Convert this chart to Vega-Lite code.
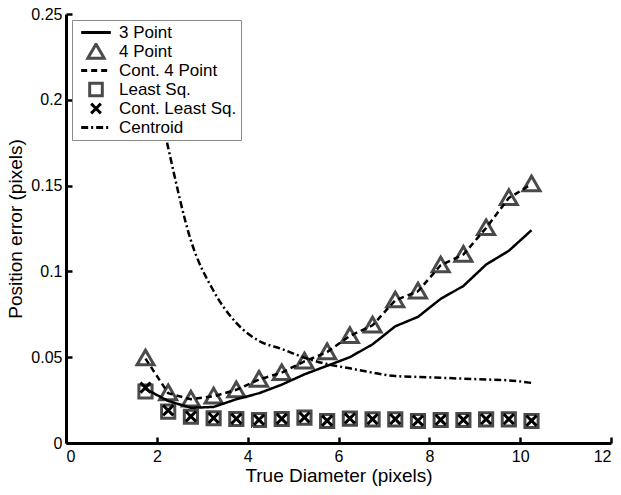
{
  "$schema": "https://vega.github.io/schema/vega-lite/v6.json",
  "width": 545,
  "height": 429,
  "autosize": {"type": "none"},
  "padding": {"left": 66, "top": 14, "right": 10, "bottom": 52},
  "background": "white",
  "config": {
    "view": {"stroke": null},
    "font": "Liberation Sans",
    "axis": {
      "grid": false,
      "domainColor": "black",
      "domainWidth": 3,
      "tickColor": "black",
      "tickWidth": 2.5,
      "tickSize": -6,
      "labelFont": "Liberation Sans",
      "labelFontSize": 16,
      "labelColor": "black",
      "titleFont": "Liberation Sans",
      "titleFontSize": 19,
      "titleFontWeight": "normal",
      "titleColor": "black"
    },
    "legend": {
      "orient": "top-left",
      "offset": 6,
      "strokeColor": "#8a8a8a",
      "strokeWidth": 1,
      "fillColor": "white",
      "padding": 4,
      "labelFont": "Liberation Sans",
      "labelFontSize": 17,
      "labelColor": "black",
      "symbolStrokeWidth": 3,
      "symbolSize": 220,
      "clipHeight": 17,
      "rowPadding": 1,
      "symbolOffset": 11,
      "labelOffset": 14
    }
  },
  "data": {
    "values": [
      {"d": 1.75, "e": 0.0315, "s": "3 Point"},
      {"d": 2.25, "e": 0.0245, "s": "3 Point"},
      {"d": 2.75, "e": 0.0205, "s": "3 Point"},
      {"d": 3.25, "e": 0.021, "s": "3 Point"},
      {"d": 3.75, "e": 0.0255, "s": "3 Point"},
      {"d": 4.25, "e": 0.029, "s": "3 Point"},
      {"d": 4.75, "e": 0.034, "s": "3 Point"},
      {"d": 5.25, "e": 0.04, "s": "3 Point"},
      {"d": 5.75, "e": 0.045, "s": "3 Point"},
      {"d": 6.25, "e": 0.05, "s": "3 Point"},
      {"d": 6.75, "e": 0.0575, "s": "3 Point"},
      {"d": 7.25, "e": 0.068, "s": "3 Point"},
      {"d": 7.75, "e": 0.0735, "s": "3 Point"},
      {"d": 8.25, "e": 0.084, "s": "3 Point"},
      {"d": 8.75, "e": 0.0915, "s": "3 Point"},
      {"d": 9.25, "e": 0.104, "s": "3 Point"},
      {"d": 9.75, "e": 0.112, "s": "3 Point"},
      {"d": 10.25, "e": 0.124, "s": "3 Point"},

      {"d": 1.75, "e": 0.0496, "s": "4 Point"},
      {"d": 2.25, "e": 0.0293, "s": "4 Point"},
      {"d": 2.75, "e": 0.0256, "s": "4 Point"},
      {"d": 3.25, "e": 0.0274, "s": "4 Point"},
      {"d": 3.75, "e": 0.031, "s": "4 Point"},
      {"d": 4.25, "e": 0.0372, "s": "4 Point"},
      {"d": 4.75, "e": 0.041, "s": "4 Point"},
      {"d": 5.25, "e": 0.0478, "s": "4 Point"},
      {"d": 5.75, "e": 0.0532, "s": "4 Point"},
      {"d": 6.25, "e": 0.0626, "s": "4 Point"},
      {"d": 6.75, "e": 0.0688, "s": "4 Point"},
      {"d": 7.25, "e": 0.0834, "s": "4 Point"},
      {"d": 7.75, "e": 0.0886, "s": "4 Point"},
      {"d": 8.25, "e": 0.1038, "s": "4 Point"},
      {"d": 8.75, "e": 0.11, "s": "4 Point"},
      {"d": 9.25, "e": 0.1255, "s": "4 Point"},
      {"d": 9.75, "e": 0.143, "s": "4 Point"},
      {"d": 10.25, "e": 0.151, "s": "4 Point"},

      {"d": 1.75, "e": 0.0492, "s": "Cont. 4 Point"},
      {"d": 2.25, "e": 0.029, "s": "Cont. 4 Point"},
      {"d": 2.75, "e": 0.0255, "s": "Cont. 4 Point"},
      {"d": 3.25, "e": 0.0272, "s": "Cont. 4 Point"},
      {"d": 3.75, "e": 0.031, "s": "Cont. 4 Point"},
      {"d": 4.25, "e": 0.037, "s": "Cont. 4 Point"},
      {"d": 4.75, "e": 0.041, "s": "Cont. 4 Point"},
      {"d": 5.25, "e": 0.0476, "s": "Cont. 4 Point"},
      {"d": 5.75, "e": 0.053, "s": "Cont. 4 Point"},
      {"d": 6.25, "e": 0.0624, "s": "Cont. 4 Point"},
      {"d": 6.75, "e": 0.0686, "s": "Cont. 4 Point"},
      {"d": 7.25, "e": 0.0832, "s": "Cont. 4 Point"},
      {"d": 7.75, "e": 0.0884, "s": "Cont. 4 Point"},
      {"d": 8.25, "e": 0.1036, "s": "Cont. 4 Point"},
      {"d": 8.75, "e": 0.1098, "s": "Cont. 4 Point"},
      {"d": 9.25, "e": 0.1253, "s": "Cont. 4 Point"},
      {"d": 9.75, "e": 0.1428, "s": "Cont. 4 Point"},
      {"d": 10.25, "e": 0.1508, "s": "Cont. 4 Point"},

      {"d": 1.75, "e": 0.03, "s": "Least Sq."},
      {"d": 2.25, "e": 0.0183, "s": "Least Sq."},
      {"d": 2.75, "e": 0.0153, "s": "Least Sq."},
      {"d": 3.25, "e": 0.0144, "s": "Least Sq."},
      {"d": 3.75, "e": 0.014, "s": "Least Sq."},
      {"d": 4.25, "e": 0.0134, "s": "Least Sq."},
      {"d": 4.75, "e": 0.014, "s": "Least Sq."},
      {"d": 5.25, "e": 0.0148, "s": "Least Sq."},
      {"d": 5.75, "e": 0.0128, "s": "Least Sq."},
      {"d": 6.25, "e": 0.0142, "s": "Least Sq."},
      {"d": 6.75, "e": 0.0138, "s": "Least Sq."},
      {"d": 7.25, "e": 0.0138, "s": "Least Sq."},
      {"d": 7.75, "e": 0.0128, "s": "Least Sq."},
      {"d": 8.25, "e": 0.0134, "s": "Least Sq."},
      {"d": 8.75, "e": 0.0134, "s": "Least Sq."},
      {"d": 9.25, "e": 0.0138, "s": "Least Sq."},
      {"d": 9.75, "e": 0.0138, "s": "Least Sq."},
      {"d": 10.25, "e": 0.0128, "s": "Least Sq."},

      {"d": 1.75, "e": 0.0323, "s": "Cont. Least Sq."},
      {"d": 2.25, "e": 0.019, "s": "Cont. Least Sq."},
      {"d": 2.75, "e": 0.0155, "s": "Cont. Least Sq."},
      {"d": 3.25, "e": 0.0146, "s": "Cont. Least Sq."},
      {"d": 3.75, "e": 0.0141, "s": "Cont. Least Sq."},
      {"d": 4.25, "e": 0.0135, "s": "Cont. Least Sq."},
      {"d": 4.75, "e": 0.0141, "s": "Cont. Least Sq."},
      {"d": 5.25, "e": 0.0149, "s": "Cont. Least Sq."},
      {"d": 5.75, "e": 0.013, "s": "Cont. Least Sq."},
      {"d": 6.25, "e": 0.0143, "s": "Cont. Least Sq."},
      {"d": 6.75, "e": 0.0139, "s": "Cont. Least Sq."},
      {"d": 7.25, "e": 0.0139, "s": "Cont. Least Sq."},
      {"d": 7.75, "e": 0.013, "s": "Cont. Least Sq."},
      {"d": 8.25, "e": 0.0135, "s": "Cont. Least Sq."},
      {"d": 8.75, "e": 0.0135, "s": "Cont. Least Sq."},
      {"d": 9.25, "e": 0.0139, "s": "Cont. Least Sq."},
      {"d": 9.75, "e": 0.0139, "s": "Cont. Least Sq."},
      {"d": 10.25, "e": 0.013, "s": "Cont. Least Sq."},

      {"d": 1.75, "e": 0.235, "s": "Centroid"},
      {"d": 2.25, "e": 0.172, "s": "Centroid"},
      {"d": 2.75, "e": 0.118, "s": "Centroid"},
      {"d": 3.25, "e": 0.0886, "s": "Centroid"},
      {"d": 3.75, "e": 0.07, "s": "Centroid"},
      {"d": 4.25, "e": 0.0595, "s": "Centroid"},
      {"d": 4.75, "e": 0.0548, "s": "Centroid"},
      {"d": 5.25, "e": 0.0497, "s": "Centroid"},
      {"d": 5.75, "e": 0.046, "s": "Centroid"},
      {"d": 6.25, "e": 0.0435, "s": "Centroid"},
      {"d": 6.75, "e": 0.041, "s": "Centroid"},
      {"d": 7.25, "e": 0.039, "s": "Centroid"},
      {"d": 7.75, "e": 0.0385, "s": "Centroid"},
      {"d": 8.25, "e": 0.038, "s": "Centroid"},
      {"d": 8.75, "e": 0.0375, "s": "Centroid"},
      {"d": 9.25, "e": 0.037, "s": "Centroid"},
      {"d": 9.75, "e": 0.0365, "s": "Centroid"},
      {"d": 10.25, "e": 0.035, "s": "Centroid"}
    ]
  },
  "encoding": {
    "x": {
      "field": "d", "type": "quantitative",
      "scale": {"domain": [0, 12], "nice": false, "zero": false},
      "axis": {"title": "True Diameter (pixels)", "values": [0, 2, 4, 6, 8, 10, 12], "labelPadding": 11, "titlePadding": 2}
    },
    "y": {
      "field": "e", "type": "quantitative",
      "scale": {"domain": [0, 0.25], "nice": false},
      "axis": {"title": "Position error (pixels)", "values": [0, 0.05, 0.1, 0.15, 0.2, 0.25], "format": "~g", "labelPadding": 10, "titlePadding": 5}
    },
    "color": {
      "field": "s", "type": "nominal", "title": null,
      "scale": {
        "domain": ["3 Point", "4 Point", "Cont. 4 Point", "Least Sq.", "Cont. Least Sq.", "Centroid"],
        "range": ["black", "#4a4a4a", "black", "#4a4a4a", "black", "black"]
      }
    },
    "strokeDash": {
      "field": "s", "type": "nominal", "title": null,
      "scale": {
        "domain": ["3 Point", "4 Point", "Cont. 4 Point", "Least Sq.", "Cont. Least Sq.", "Centroid"],
        "range": [[1, 0], [1, 0], [6, 4], [1, 0], [1, 0], [7, 3, 2, 3]]
      }
    }
  },
  "layer": [
    {
      "transform": [{"filter": "datum.s == '4 Point' || datum.s == 'Least Sq.' || datum.s == 'Cont. Least Sq.'"}],
      "mark": {"type": "point", "filled": false, "strokeWidth": 3, "opacity": 1, "size": 240},
      "encoding": {
        "shape": {
          "field": "s", "type": "nominal", "title": null,
          "scale": {
            "domain": ["3 Point", "4 Point", "Cont. 4 Point", "Least Sq.", "Cont. Least Sq.", "Centroid"],
            "range": ["M-2,0L2,0", "M0,-1L1.1,0.9L-1.1,0.9Z", "M-2,0L2,0", "M-0.85,-0.85L0.85,-0.85L0.85,0.85L-0.85,0.85Z", "M-0.65,-0.65L0.65,0.65M-0.65,0.65L0.65,-0.65", "M-2,0L2,0"]
          }
        }
      }
    },
    {
      "transform": [{"filter": "datum.s == '3 Point' || datum.s == 'Cont. 4 Point'"}],
      "mark": {"type": "line", "strokeWidth": 2.5, "clip": true},
      "encoding": {"detail": {"field": "s"}}
    },
    {
      "transform": [{"filter": "datum.s == 'Centroid'"}],
      "mark": {"type": "line", "strokeWidth": 2.5, "clip": true, "interpolate": "monotone"},
      "encoding": {"detail": {"field": "s"}}
    }
  ]
}
